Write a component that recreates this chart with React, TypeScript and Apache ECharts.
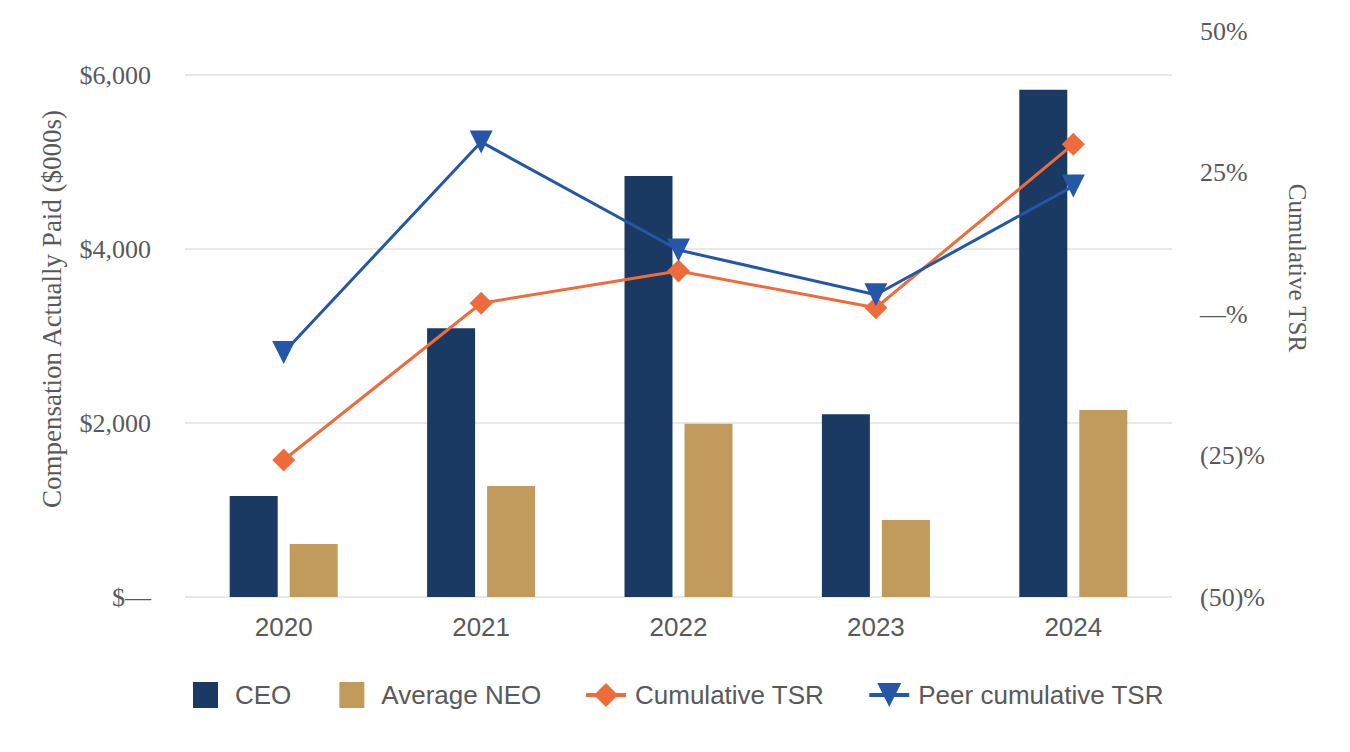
import React, { useEffect, useRef } from "react";
import * as echarts from "echarts";

const years = ["2020", "2021", "2022", "2023", "2024"];
const ceoValues = [1160, 3090, 4840, 2100, 5830];
const neoValues = [610, 1275, 1990, 885, 2150];
const tsrValues = [-25.8, 1.9, 7.6, 1.1, 30.0];
const peerTsrValues = [-6.8, 30.4, 11.3, 3.4, 22.6];
const leftTicks = [0, 2000, 4000, 6000];
const rightTicks = [-50, -25, 0, 25, 50];

const TEXT = "#595959";
const SERIF = '"Liberation Serif", "Times New Roman", serif';
const SANS = '"Liberation Sans", Arial, sans-serif';

export default function App() {
  const ref = useRef<HTMLDivElement>(null);
  useEffect(() => {
    document.body.style.margin = "0";
    const chart = echarts.init(ref.current!, undefined, { renderer: "svg" });
    chart.setOption({
      animation: false,
      backgroundColor: "#ffffff",
      grid: [
        { left: 185, right: 178, top: 75, bottom: 155 },
        { left: 185, right: 178, top: 31, bottom: 155 },
      ],
      xAxis: [
        {
          type: "category",
          gridIndex: 0,
          data: years,
          axisLine: { show: false },
          axisTick: { show: false },
          axisLabel: { fontFamily: SANS, fontSize: 26, color: TEXT, margin: 17 },
        },
        { type: "category", gridIndex: 1, data: years, show: false },
      ],
      yAxis: [
        {
          type: "value",
          gridIndex: 0,
          min: leftTicks[0],
          max: leftTicks[leftTicks.length - 1],
          interval: 2000,
          axisLine: { show: false },
          axisTick: { show: false },
          splitLine: { lineStyle: { color: "#e2e2e2", width: 1.5 } },
          axisLabel: {
            fontFamily: SERIF,
            fontSize: 26,
            color: TEXT,
            margin: 34,
            formatter: (v: number) => (v === 0 ? "$\u2014" : "$" + v.toLocaleString("en-US")),
          },
        },
        {
          type: "value",
          gridIndex: 1,
          position: "right",
          min: rightTicks[0],
          max: rightTicks[rightTicks.length - 1],
          interval: 25,
          axisLine: { show: false },
          axisTick: { show: false },
          splitLine: { show: false },
          axisLabel: {
            fontFamily: SERIF,
            fontSize: 26,
            color: TEXT,
            margin: 28,
            formatter: (v: number) => (v === 0 ? "\u2014%" : v > 0 ? `${v}%` : `(${-v})%`),
          },
        },
      ],
      legend: [
        {
          data: ["CEO", "Average NEO"],
          left: 193,
          top: 682,
          padding: 0,
          itemWidth: 25,
          itemHeight: 26,
          itemGap: 48,
          icon: "rect",
          textStyle: { fontFamily: SANS, fontSize: 26, color: TEXT, padding: [0, 0, 0, 12] },
        },
        {
          data: ["Cumulative TSR", "Peer cumulative TSR"],
          left: 584,
          top: 682,
          padding: 0,
          itemWidth: 40,
          itemHeight: 30,
          itemGap: 43,
          lineStyle: { width: 4 },
          textStyle: { fontFamily: SANS, fontSize: 26, color: TEXT, padding: [0, 0, 0, 4] },
        },
      ],
      graphic: [
        {
          type: "text",
          x: 52,
          y: 309,
          rotation: Math.PI / 2,
          style: {
            text: "Compensation Actually Paid ($000s)",
            font: `27px ${SERIF}`,
            fill: TEXT,
            textAlign: "center",
            textVerticalAlign: "middle",
          },
        },
        {
          type: "text",
          x: 1297,
          y: 268,
          rotation: -Math.PI / 2,
          style: {
            text: "Cumulative TSR",
            font: `25px ${SERIF}`,
            fill: TEXT,
            textAlign: "center",
            textVerticalAlign: "middle",
          },
        },
      ],
      series: [
        {
          name: "CEO",
          type: "bar",
          xAxisIndex: 0,
          yAxisIndex: 0,
          data: ceoValues,
          barWidth: 48,
          barGap: "25%",
          itemStyle: { color: "#1b3a63" },
        },
        {
          name: "Average NEO",
          type: "bar",
          xAxisIndex: 0,
          yAxisIndex: 0,
          data: neoValues,
          barWidth: 48,
          barGap: "25%",
          itemStyle: { color: "#c09b5c" },
        },
        {
          name: "Cumulative TSR",
          type: "line",
          xAxisIndex: 1,
          yAxisIndex: 1,
          data: tsrValues,
          symbol: "diamond",
          symbolSize: 23,
          itemStyle: { color: "#ee6c3c" },
          lineStyle: { color: "#ee6c3c", width: 3 },
          z: 3,
        },
        {
          name: "Peer cumulative TSR",
          type: "line",
          xAxisIndex: 1,
          yAxisIndex: 1,
          data: peerTsrValues,
          symbol: "triangle",
          symbolRotate: 180,
          symbolSize: 23,
          itemStyle: { color: "#2457a8" },
          lineStyle: { color: "#2457a8", width: 3 },
          z: 4,
        },
      ],
    });
    return () => chart.dispose();
  }, []);
  return <div ref={ref} style={{ width: 1350, height: 752 }} />;
}
